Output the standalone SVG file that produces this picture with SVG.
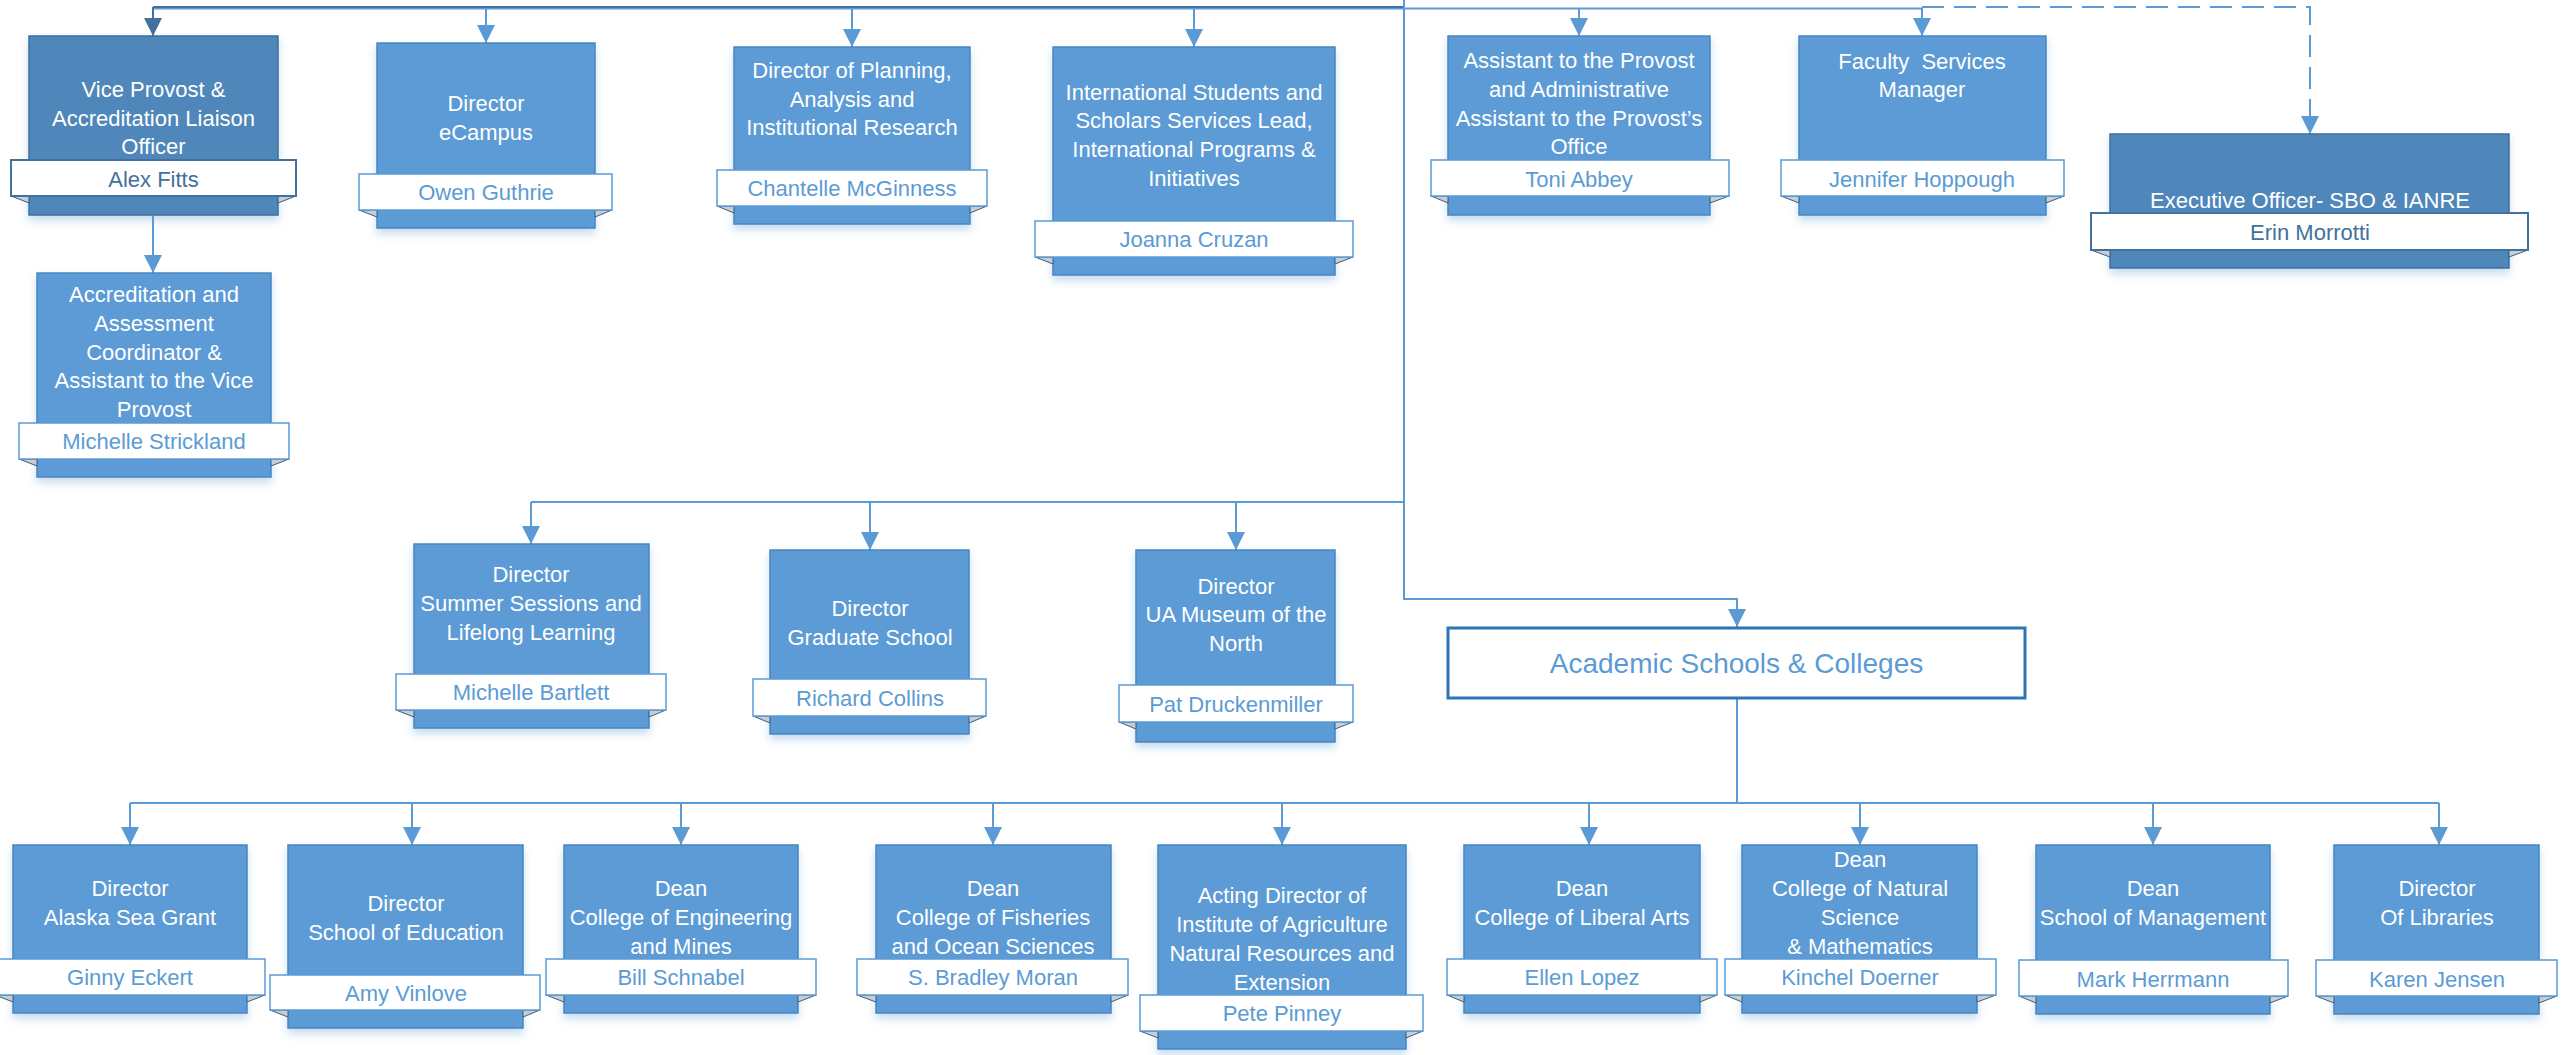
<svg xmlns="http://www.w3.org/2000/svg" width="2563" height="1055" viewBox="0 0 2563 1055">
<style>
.box{fill:#5B9BD5;stroke:#4A86C0;stroke-width:1.5;filter:url(#sh)}
.dark .box{fill:#4F87BA;stroke:#3E6F9E}
.banner{fill:#fff;stroke:#5B9BD5;stroke-width:1.5}
.dark .banner{stroke:#41719C;stroke-width:2}
.fold{fill:#C9CDD2;stroke:#3A5F85;stroke-width:1;stroke-linejoin:round}
.t{font-family:"Liberation Sans",Arial,sans-serif;font-size:22px;fill:#fff;text-anchor:middle}
.nm{font-family:"Liberation Sans",Arial,sans-serif;font-size:22px;fill:#5B9BD5;text-anchor:middle}
.dark .nm{fill:#41719C}
.ln{fill:none;stroke:#5B9BD5;stroke-width:2}
.ln.arr{marker-end:url(#ah)}
.ln.dk{stroke:#41719C}
.ln.dk.arr{marker-end:url(#ahd)}
.ln.dash{stroke-dasharray:22 10}
.acad{fill:#fff;stroke:#2E75B6;stroke-width:3}
.acadt{font-family:"Liberation Sans",Arial,sans-serif;font-size:28px;fill:#5B9BD5;text-anchor:middle}
</style>
<defs>
<filter id="sh" x="-10%" y="-10%" width="120%" height="130%">
<feDropShadow dx="0" dy="5" stdDeviation="4" flood-color="#5B9BD5" flood-opacity="0.35"/>
</filter>
<marker id="ah" markerUnits="userSpaceOnUse" markerWidth="18" markerHeight="18" viewBox="0 0 18 18" refX="18" refY="9" orient="auto">
<path d="M0,0 L18,9 L0,18 Z" fill="#5B9BD5"/>
</marker>
<marker id="ahd" markerUnits="userSpaceOnUse" markerWidth="18" markerHeight="18" viewBox="0 0 18 18" refX="18" refY="9" orient="auto">
<path d="M0,0 L18,9 L0,18 Z" fill="#41719C"/>
</marker>
</defs>
<rect width="2563" height="1055" fill="#fff"/>

<g id="connectors">
<path class="ln" d="M153,8.5 H1922"/>
<path class="ln dk" d="M153,7 H1404"/>
<path class="ln" d="M1404,0 V599 H1737 V627" style="marker-end:url(#ah)"/>
<path class="ln dk arr" d="M153,7 V36"/>
<path class="ln arr" d="M486,8 V43"/>
<path class="ln arr" d="M852,8 V47"/>
<path class="ln arr" d="M1194,8 V47"/>
<path class="ln arr" d="M1579,8 V36"/>
<path class="ln arr" d="M1922,8 V36"/>
<path class="ln dash arr" d="M1922,7 H2310 V134"/>
<path class="ln arr" d="M153,216 V273"/>
<path class="ln" d="M531,502 H1404"/>
<path class="ln arr" d="M531,502 V544"/>
<path class="ln arr" d="M870,502 V550"/>
<path class="ln arr" d="M1236,502 V550"/>
<path class="ln" d="M1737,698 V803"/>
<path class="ln" d="M130,803 H2439"/>
<path class="ln arr" d="M130,803 V845"/>
<path class="ln arr" d="M412,803 V845"/>
<path class="ln arr" d="M681,803 V845"/>
<path class="ln arr" d="M993,803 V845"/>
<path class="ln arr" d="M1282,803 V845"/>
<path class="ln arr" d="M1589,803 V845"/>
<path class="ln arr" d="M1860,803 V845"/>
<path class="ln arr" d="M2153,803 V845"/>
<path class="ln arr" d="M2439,803 V845"/>
</g>

<g id="n-vp" class="node dark">
<rect class="box" x="29" y="36" width="249" height="179"/>
<path class="fold" d="M11,196 L29,196 L29,203 Z M296,196 L278,196 L278,203 Z"/>
<rect class="banner" x="11" y="160" width="285" height="36"/>
<text class="t"><tspan x="153.5" y="97">Vice Provost &amp;</tspan><tspan x="153.5" y="126">Accreditation Liaison</tspan><tspan x="153.5" y="154">Officer</tspan></text>
<text class="nm" x="153.5" y="187">Alex Fitts</text>
</g>

<g id="n-owen" class="node">
<rect class="box" x="377" y="43" width="218" height="185"/>
<path class="fold" d="M359,210 L377,210 L377,217 Z M612,210 L595,210 L595,217 Z"/>
<rect class="banner" x="359" y="174" width="253" height="36"/>
<text class="t"><tspan x="486" y="111">Director</tspan><tspan x="486" y="140">eCampus</tspan></text>
<text class="nm" x="486" y="200">Owen Guthrie</text>
</g>

<g id="n-chantelle" class="node">
<rect class="box" x="734" y="47" width="236" height="177"/>
<path class="fold" d="M717,206 L734,206 L734,213 Z M987,206 L970,206 L970,213 Z"/>
<rect class="banner" x="717" y="170" width="270" height="36"/>
<text class="t"><tspan x="852" y="78">Director of Planning,</tspan><tspan x="852" y="107">Analysis and</tspan><tspan x="852" y="135">Institutional Research</tspan></text>
<text class="nm" x="852" y="196">Chantelle McGinness</text>
</g>

<g id="n-joanna" class="node">
<rect class="box" x="1053" y="47" width="282" height="228"/>
<path class="fold" d="M1035,257 L1053,257 L1053,264 Z M1353,257 L1335,257 L1335,264 Z"/>
<rect class="banner" x="1035" y="221" width="318" height="36"/>
<text class="t"><tspan x="1194" y="100">International Students and</tspan><tspan x="1194" y="128">Scholars Services Lead,</tspan><tspan x="1194" y="157">International Programs &amp;</tspan><tspan x="1194" y="186">Initiatives</tspan></text>
<text class="nm" x="1194" y="247">Joanna Cruzan</text>
</g>

<g id="n-toni" class="node">
<rect class="box" x="1448" y="36" width="262" height="179"/>
<path class="fold" d="M1431,196 L1448,196 L1448,203 Z M1729,196 L1710,196 L1710,203 Z"/>
<rect class="banner" x="1431" y="160" width="298" height="36"/>
<text class="t"><tspan x="1579" y="68">Assistant to the Provost</tspan><tspan x="1579" y="97">and Administrative</tspan><tspan x="1579" y="126">Assistant to the Provost’s</tspan><tspan x="1579" y="154">Office</tspan></text>
<text class="nm" x="1579" y="187">Toni Abbey</text>
</g>

<g id="n-jennifer" class="node">
<rect class="box" x="1799" y="36" width="247" height="179"/>
<path class="fold" d="M1781,196 L1799,196 L1799,203 Z M2064,196 L2046,196 L2046,203 Z"/>
<rect class="banner" x="1781" y="160" width="283" height="36"/>
<text class="t" style="white-space:pre"><tspan x="1922" y="69">Faculty  Services</tspan><tspan x="1922" y="97">Manager</tspan></text>
<text class="nm" x="1922" y="187">Jennifer Hoppough</text>
</g>

<g id="n-exec" class="node dark">
<rect class="box" x="2110" y="134" width="399" height="134"/>
<path class="fold" d="M2091,250 L2110,250 L2110,257 Z M2528,250 L2509,250 L2509,257 Z"/>
<rect class="banner" x="2091" y="213" width="437" height="37"/>
<text class="t" x="2310" y="208">Executive Officer- SBO &amp; IANRE</text>
<text class="nm" x="2310" y="240">Erin Morrotti</text>
</g>

<g id="n-accred" class="node">
<rect class="box" x="37" y="273" width="234" height="204"/>
<path class="fold" d="M19,459 L37,459 L37,466 Z M289,459 L271,459 L271,466 Z"/>
<rect class="banner" x="19" y="423" width="270" height="36"/>
<text class="t"><tspan x="154" y="302">Accreditation and</tspan><tspan x="154" y="331">Assessment</tspan><tspan x="154" y="360">Coordinator &amp;</tspan><tspan x="154" y="388">Assistant to the Vice</tspan><tspan x="154" y="417">Provost</tspan></text>
<text class="nm" x="154" y="449">Michelle Strickland</text>
</g>

<g id="n-bartlett" class="node">
<rect class="box" x="414" y="544" width="235" height="184"/>
<path class="fold" d="M396,710 L414,710 L414,717 Z M666,710 L649,710 L649,717 Z"/>
<rect class="banner" x="396" y="674" width="270" height="36"/>
<text class="t"><tspan x="531" y="582">Director</tspan><tspan x="531" y="611">Summer Sessions and</tspan><tspan x="531" y="640">Lifelong Learning</tspan></text>
<text class="nm" x="531" y="700">Michelle Bartlett</text>
</g>

<g id="n-collins" class="node">
<rect class="box" x="770" y="550" width="199" height="184"/>
<path class="fold" d="M753,716 L770,716 L770,723 Z M986,716 L969,716 L969,723 Z"/>
<rect class="banner" x="753" y="679" width="233" height="37"/>
<text class="t"><tspan x="870" y="616">Director</tspan><tspan x="870" y="645">Graduate School</tspan></text>
<text class="nm" x="870" y="706">Richard Collins</text>
</g>

<g id="n-pat" class="node">
<rect class="box" x="1136" y="550" width="199" height="192"/>
<path class="fold" d="M1119,722 L1136,722 L1136,729 Z M1353,722 L1335,722 L1335,729 Z"/>
<rect class="banner" x="1119" y="685" width="234" height="37"/>
<text class="t"><tspan x="1236" y="594">Director</tspan><tspan x="1236" y="622">UA Museum of the</tspan><tspan x="1236" y="651">North</tspan></text>
<text class="nm" x="1236" y="712">Pat Druckenmiller</text>
</g>

<g id="n-academic" class="node">
<rect class="acad" x="1448" y="628" width="577" height="70"/>
<text class="acadt" x="1736.5" y="673">Academic Schools &amp; Colleges</text>
</g>

<g id="n-ginny" class="node">
<rect class="box" x="13" y="845" width="234" height="168"/>
<path class="fold" d="M-5,995 L13,995 L13,1002 Z M265,995 L247,995 L247,1002 Z"/>
<rect class="banner" x="-5" y="959" width="270" height="36"/>
<text class="t"><tspan x="130" y="896">Director</tspan><tspan x="130" y="925">Alaska Sea Grant</tspan></text>
<text class="nm" x="130" y="985">Ginny Eckert</text>
</g>

<g id="n-amy" class="node">
<rect class="box" x="288" y="845" width="235" height="183"/>
<path class="fold" d="M270,1010 L288,1010 L288,1017 Z M540,1010 L523,1010 L523,1017 Z"/>
<rect class="banner" x="270" y="975" width="270" height="35"/>
<text class="t"><tspan x="406" y="911">Director</tspan><tspan x="406" y="940">School of Education</tspan></text>
<text class="nm" x="406" y="1001">Amy Vinlove</text>
</g>

<g id="n-bill" class="node">
<rect class="box" x="564" y="845" width="234" height="168"/>
<path class="fold" d="M546,995 L564,995 L564,1002 Z M816,995 L798,995 L798,1002 Z"/>
<rect class="banner" x="546" y="959" width="270" height="36"/>
<text class="t"><tspan x="681" y="896">Dean</tspan><tspan x="681" y="925">College of Engineering</tspan><tspan x="681" y="954">and Mines</tspan></text>
<text class="nm" x="681" y="985">Bill Schnabel</text>
</g>

<g id="n-moran" class="node">
<rect class="box" x="876" y="845" width="235" height="168"/>
<path class="fold" d="M857,995 L876,995 L876,1002 Z M1128,995 L1111,995 L1111,1002 Z"/>
<rect class="banner" x="857" y="959" width="271" height="36"/>
<text class="t"><tspan x="993" y="896">Dean</tspan><tspan x="993" y="925">College of Fisheries</tspan><tspan x="993" y="954">and Ocean Sciences</tspan></text>
<text class="nm" x="993" y="985">S. Bradley Moran</text>
</g>

<g id="n-pete" class="node">
<rect class="box" x="1158" y="845" width="248" height="204"/>
<path class="fold" d="M1140,1031 L1158,1031 L1158,1038 Z M1423,1031 L1406,1031 L1406,1038 Z"/>
<rect class="banner" x="1140" y="995" width="283" height="36"/>
<text class="t"><tspan x="1282" y="903">Acting Director of</tspan><tspan x="1282" y="932">Institute of Agriculture</tspan><tspan x="1282" y="961">Natural Resources and</tspan><tspan x="1282" y="990">Extension</tspan></text>
<text class="nm" x="1282" y="1021">Pete Pinney</text>
</g>

<g id="n-ellen" class="node">
<rect class="box" x="1464" y="845" width="236" height="168"/>
<path class="fold" d="M1447,995 L1464,995 L1464,1002 Z M1717,995 L1700,995 L1700,1002 Z"/>
<rect class="banner" x="1447" y="959" width="270" height="36"/>
<text class="t"><tspan x="1582" y="896">Dean</tspan><tspan x="1582" y="925">College of Liberal Arts</tspan></text>
<text class="nm" x="1582" y="985">Ellen Lopez</text>
</g>

<g id="n-kinchel" class="node">
<rect class="box" x="1742" y="845" width="235" height="168"/>
<path class="fold" d="M1725,995 L1742,995 L1742,1002 Z M1996,995 L1977,995 L1977,1002 Z"/>
<rect class="banner" x="1725" y="959" width="271" height="36"/>
<text class="t"><tspan x="1860" y="867">Dean</tspan><tspan x="1860" y="896">College of Natural</tspan><tspan x="1860" y="925">Science</tspan><tspan x="1860" y="954">&amp; Mathematics</tspan></text>
<text class="nm" x="1860" y="985">Kinchel Doerner</text>
</g>

<g id="n-mark" class="node">
<rect class="box" x="2036" y="845" width="234" height="169"/>
<path class="fold" d="M2019,996 L2036,996 L2036,1003 Z M2288,996 L2270,996 L2270,1003 Z"/>
<rect class="banner" x="2019" y="960" width="269" height="36"/>
<text class="t"><tspan x="2153" y="896">Dean</tspan><tspan x="2153" y="925">School of Management</tspan></text>
<text class="nm" x="2153" y="987">Mark Herrmann</text>
</g>

<g id="n-karen" class="node">
<rect class="box" x="2334" y="845" width="205" height="169"/>
<path class="fold" d="M2316,996 L2334,996 L2334,1003 Z M2557,996 L2539,996 L2539,1003 Z"/>
<rect class="banner" x="2316" y="960" width="241" height="36"/>
<text class="t"><tspan x="2437" y="896">Director</tspan><tspan x="2437" y="925">Of Libraries</tspan></text>
<text class="nm" x="2437" y="987">Karen Jensen</text>
</g>
</svg>
